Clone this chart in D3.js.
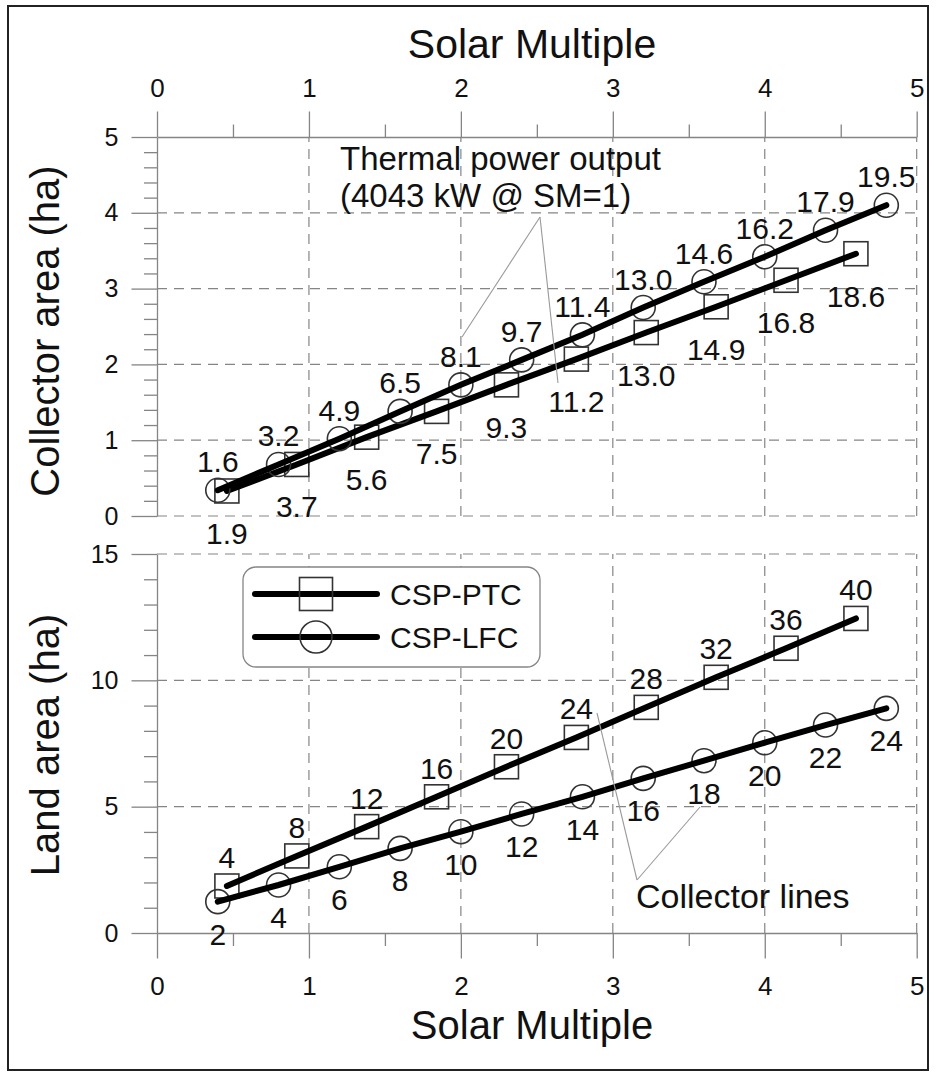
<!DOCTYPE html>
<html lang="en">
<head>
<meta charset="UTF-8">
<title>Solar Multiple</title>
<script src="https://cdn.jsdelivr.net/npm/d3@7"></script>
<style>
  body { margin: 0; background: #fff; }
  text { font-family: "Liberation Sans", Arial, sans-serif; fill: #111; }
</style>
</head>
<body>
<svg width="936" height="1073"></svg>
<script>
// data
var smPTC = [0.46, 0.92, 1.38, 1.84, 2.30, 2.76, 3.22, 3.68, 4.14, 4.60];
var smLFC = [0.4, 0.8, 1.2, 1.6, 2.0, 2.4, 2.8, 3.2, 3.6, 4.0, 4.4, 4.8];

// collector area (ha)
var collPTC = [0.33, 0.68, 1.04, 1.38, 1.73, 2.07, 2.42, 2.76, 3.11, 3.46];
var collLFC = [0.34, 0.68, 1.02, 1.38, 1.73, 2.06, 2.39, 2.75, 3.09, 3.42, 3.77, 4.10];
// thermal power labels (MW)
var powerPTC = ['1.9','3.7','5.6','7.5','9.3','11.2','13.0','14.9','16.8','18.6'];
var powerLFC = ['1.6','3.2','4.9','6.5','8.1','9.7','11.4','13.0','14.6','16.2','17.9','19.5'];

// land area (ha)
var landPTC = [1.86, 3.05, 4.21, 5.39, 6.58, 7.74, 8.93, 10.12, 11.27, 12.45];
var landLFC = [1.24, 1.90, 2.62, 3.35, 4.01, 4.71, 5.39, 6.12, 6.82, 7.53, 8.23, 8.89];
// collector line labels
var linesPTC = ['4','8','12','16','20','24','28','32','36','40'];
var linesLFC = ['2','4','6','8','10','12','14','16','18','20','22','24'];

var xTicks = [0, 1, 2, 3, 4, 5];
var xMinor = [0.5, 1.5, 2.5, 3.5, 4.5];
var yTopTicks = [0, 1, 2, 3, 4, 5];
var yBotTicks = [0, 5, 10, 15];

var svg = d3.select('svg');
var grey = '#858585';

// frame
svg.append('rect').attr('x', 8).attr('y', 6).attr('width', 920).attr('height', 1064)
  .attr('fill', 'none').attr('stroke', '#222').attr('stroke-width', 2);

// scales
var x = d3.scaleLinear().domain([0, 5]).range([157, 916.7]);
var yTop = d3.scaleLinear().domain([0, 5]).range([516, 137]);
var yBot = d3.scaleLinear().domain([0, 15]).range([933, 554]);

// gridlines
function grid(y, yVals) {
  var g = svg.append('g').attr('stroke', grey).attr('stroke-width', 1.2)
    .attr('stroke-dasharray', '10,7').attr('fill', 'none');
  g.selectAll('.h').data(yVals).enter().append('line')
    .attr('x1', x(0)).attr('x2', x(5))
    .attr('y1', function(d) { return y(d); }).attr('y2', function(d) { return y(d); });
  g.selectAll('.v').data(xTicks.slice(1)).enter().append('line')
    .attr('x1', function(d) { return x(d); }).attr('x2', function(d) { return x(d); })
    .attr('y1', y.range()[0]).attr('y2', y.range()[1]);
}
grid(yTop, [0, 1, 2, 3, 4]);
grid(yBot, [5, 10, 15]);

function styleAxis(g, fs) {
  g.selectAll('path, line').attr('stroke', grey).attr('stroke-width', 1.3);
  g.selectAll('text').attr('font-size', fs).attr('fill', '#111')
    .attr('font-family', '"Liberation Sans", Arial, sans-serif');
}

// top x axis
var gxt = svg.append('g').attr('transform', 'translate(0,' + yTop(5) + ')')
  .call(d3.axisTop(x).tickValues(xTicks).tickSize(25.5).tickSizeOuter(0).tickPadding(15).tickFormat(d3.format('d')));
styleAxis(gxt, 26);
var gxtm = svg.append('g').attr('transform', 'translate(0,' + yTop(5) + ')')
  .call(d3.axisTop(x).tickValues(xMinor).tickSize(12.5).tickFormat(''));
styleAxis(gxtm, 26);
gxtm.select('.domain').remove();

// bottom x axis
var gxb = svg.append('g').attr('transform', 'translate(0,' + yBot(0) + ')')
  .call(d3.axisBottom(x).tickValues(xTicks).tickSize(25.5).tickSizeOuter(0).tickFormat(d3.format('d')));
styleAxis(gxb, 26);
gxb.selectAll('text').attr('y', 62).attr('dy', 0);
var gxbm = svg.append('g').attr('transform', 'translate(0,' + yBot(0) + ')')
  .call(d3.axisBottom(x).tickValues(xMinor).tickSize(13).tickFormat(''));
styleAxis(gxbm, 26);
gxbm.select('.domain').remove();

// y axes
function yAxis(y, ticks, minorStep) {
  var g = svg.append('g').attr('transform', 'translate(' + x(0) + ',0)')
    .call(d3.axisLeft(y).tickValues(ticks).tickSize(25.5).tickSizeOuter(0).tickPadding(13).tickFormat(d3.format('d')));
  styleAxis(g, 25);
  var d = y.domain();
  var minor = d3.range(d[0], d[1] + 1e-9, minorStep).filter(function(v) {
    return ticks.every(function(t) { return Math.abs(t - v) > 1e-6; });
  });
  var gm = svg.append('g').attr('transform', 'translate(' + x(0) + ',0)')
    .call(d3.axisLeft(y).tickValues(minor).tickSize(13).tickFormat(''));
  styleAxis(gm, 25);
  gm.select('.domain').remove();
}
yAxis(yTop, yTopTicks, 0.2);
yAxis(yBot, yBotTicks, 1);

// axis titles
svg.append('text').attr('x', 532).attr('y', 58).attr('text-anchor', 'middle')
  .attr('font-size', 41).text('Solar Multiple');
svg.append('text').attr('x', 532).attr('y', 1039).attr('text-anchor', 'middle')
  .attr('font-size', 40).text('Solar Multiple');
svg.append('text').attr('transform', 'translate(59,' + 331 + ') rotate(-90)')
  .attr('text-anchor', 'middle').attr('font-size', 40).text('Collector area (ha)');
svg.append('text').attr('transform', 'translate(59,' + 745 + ') rotate(-90)')
  .attr('text-anchor', 'middle').attr('font-size', 40).text('Land area (ha)');

// series
function series(xs, ys, y, shape, labels, above, offset) {
  var pts = xs.map(function(v, i) { return [x(v), y(ys[i])]; });
  var g = svg.append('g');
  if (shape === 'square') {
    g.selectAll('rect').data(pts).enter().append('rect')
      .attr('x', function(p) { return p[0] - 12; }).attr('y', function(p) { return p[1] - 12; })
      .attr('width', 24).attr('height', 24)
      .attr('fill', 'none').attr('stroke', '#333').attr('stroke-width', 1.6);
  } else {
    g.selectAll('circle').data(pts).enter().append('circle')
      .attr('cx', function(p) { return p[0]; }).attr('cy', function(p) { return p[1]; })
      .attr('r', 12).attr('fill', 'none').attr('stroke', '#333').attr('stroke-width', 1.6);
  }
  g.append('path').datum(pts).attr('d', d3.line())
    .attr('fill', 'none').attr('stroke', '#000').attr('stroke-width', 6).attr('stroke-linecap', 'round');
  g.selectAll('text').data(pts).enter().append('text')
    .attr('x', function(p) { return p[0]; })
    .attr('y', function(p) { return above ? p[1] - offset + 11 : p[1] + offset + 11; })
    .attr('text-anchor', 'middle').attr('font-size', 30)
    .text(function(p, i) { return labels[i]; });
}
series(smPTC, collPTC, yTop, 'square', powerPTC, false, 42);
series(smLFC, collLFC, yTop, 'circle', powerLFC, true, 29);
series(smPTC, landPTC, yBot, 'square', linesPTC, true, 29);
series(smLFC, landLFC, yBot, 'circle', linesLFC, false, 32);

// annotations
function leader(x1, y1, x2, y2) {
  svg.append('line').attr('x1', x1).attr('y1', y1).attr('x2', x2).attr('y2', y2)
    .attr('stroke', '#999').attr('stroke-width', 1.1);
}
leader(540, 217, 462, 337);
leader(540, 217, 558, 383);
svg.append('text').attr('x', 340).attr('y', 170).attr('font-size', 33).text('Thermal power output');
svg.append('text').attr('x', 340).attr('y', 207).attr('font-size', 33).text('(4043 kW @ SM=1)');

leader(637, 880, 597, 713);
leader(637, 880, 700, 807);
svg.append('text').attr('x', 636).attr('y', 908).attr('font-size', 34).text('Collector lines');

// legend
var lg = svg.append('g');
lg.append('rect').attr('x', 243).attr('y', 567).attr('width', 297).attr('height', 100).attr('rx', 13)
  .attr('fill', '#fff').attr('stroke', grey).attr('stroke-width', 1.3);
[['CSP-PTC', 'square', 594], ['CSP-LFC', 'circle', 637]].forEach(function(r) {
  lg.append('line').attr('x1', 255).attr('x2', 377).attr('y1', r[2]).attr('y2', r[2])
    .attr('stroke', '#000').attr('stroke-width', 6).attr('stroke-linecap', 'round');
  if (r[1] === 'square') {
    lg.append('rect').attr('x', 316 - 16.5).attr('y', r[2] - 16.5).attr('width', 33).attr('height', 33)
      .attr('fill', 'none').attr('stroke', '#333').attr('stroke-width', 1.6);
  } else {
    lg.append('circle').attr('cx', 316).attr('cy', r[2]).attr('r', 16)
      .attr('fill', 'none').attr('stroke', '#333').attr('stroke-width', 1.6);
  }
  lg.append('text').attr('x', 390).attr('y', r[2] + 11).attr('font-size', 30).text(r[0]);
});
</script>
</body>
</html>
